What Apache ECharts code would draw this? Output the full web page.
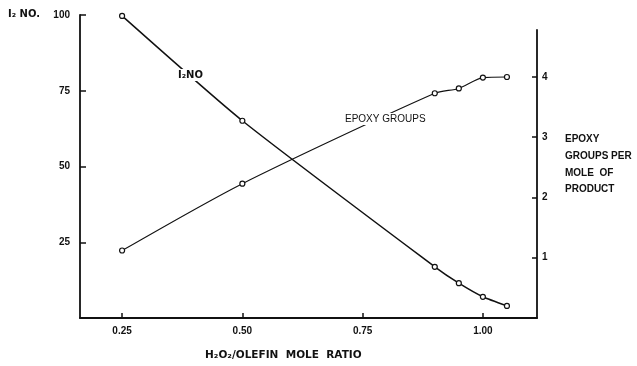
<!DOCTYPE html>
<html><head><meta charset="utf-8">
<script src="https://cdn.jsdelivr.net/npm/echarts@6/dist/echarts.min.js"></script>
<style>html,body{margin:0;padding:0;background:#fff}#c{width:637px;height:366px}</style>
</head><body><div id="c"></div>
<script>
const ratios = [0.25, 0.50, 0.90, 0.95, 1.00, 1.05];
const iodineNo = [99.7, 65.1, 16.9, 11.5, 7.0, 4.0];
const epoxyGroups = [1.12, 2.23, 3.73, 3.81, 3.99, 4.0];
const xTicks = [0.25, 0.50, 0.75, 1.00];
const leftTicks = [25, 50, 75, 100];
const rightTicks = [1, 2, 3, 4];

const FONT = '"Liberation Sans", "DejaVu Sans", sans-serif';
const DV = '"DejaVu Sans", sans-serif';
const chart = echarts.init(document.getElementById('c'), null, {renderer: 'canvas'});
const grid = {left: 80, right: 100, top: 15, bottom: 48};
const xBase = {type: 'value', min: 0.1625, max: 1.1125};

chart.setOption({
  animation: false,
  backgroundColor: '#fff',
  grid: [grid, {left: 80, right: 100, top: 30, bottom: 48}],
  xAxis: [
    Object.assign({}, xBase, {
      gridIndex: 0,
      axisLine: {lineStyle: {color: '#111', width: 1.8}},
      axisTick: {inside: true, length: 5, customValues: xTicks, lineStyle: {color: '#111', width: 1.5}},
      axisLabel: {customValues: xTicks, formatter: v => v.toFixed(2), color: '#111', fontFamily: FONT, fontWeight: 'bold', fontSize: 10, margin: 8},
      splitLine: {show: false}
    }),
    Object.assign({}, xBase, {gridIndex: 1, show: false, splitLine: {show: false}})
  ],
  yAxis: [
    {type: 'value', gridIndex: 0, min: 0, max: 100, interval: 25, position: 'left',
     axisLine: {show: true, lineStyle: {color: '#111', width: 1.8}},
     axisTick: {show: true, inside: true, length: 6, lineStyle: {color: '#111', width: 1.5}},
     axisLabel: {showMinLabel: false, color: '#111', fontFamily: FONT, fontWeight: 'bold', fontSize: 10, margin: 10,
       formatter: v => leftTicks.includes(v) ? String(v) : ''},
     splitLine: {show: false}},
    {type: 'value', gridIndex: 1, min: 0, max: 4.78, interval: 1, position: 'right',
     axisLine: {show: true, lineStyle: {color: '#111', width: 1.8}},
     axisTick: {show: true, inside: true, length: 5, lineStyle: {color: '#111', width: 1.5}},
     axisLabel: {showMinLabel: false, showMaxLabel: false, color: '#111', fontFamily: FONT, fontWeight: 'bold', fontSize: 10, margin: 5,
       formatter: v => rightTicks.includes(v) ? String(v) : ''},
     splitLine: {show: false}}
  ],
  series: [
    {name: 'I2 NO', type: 'line', xAxisIndex: 0, yAxisIndex: 0, smooth: 0.2,
     data: ratios.map((x, i) => [x, iodineNo[i]]),
     symbol: 'circle', symbolSize: 5, showAllSymbol: true,
     lineStyle: {color: '#111', width: 1.5},
     itemStyle: {color: '#fff', borderColor: '#111', borderWidth: 1.2}},
    {name: 'Epoxy groups', type: 'line', xAxisIndex: 1, yAxisIndex: 1, smooth: 0.25,
     data: ratios.map((x, i) => [x, epoxyGroups[i]]),
     symbol: 'circle', symbolSize: 5, showAllSymbol: true,
     lineStyle: {color: '#111', width: 1.1},
     itemStyle: {color: '#fff', borderColor: '#111', borderWidth: 1.2}}
  ],
  graphic: [
    {type: 'text', left: 8, top: 9, z: 100, style: {text: 'I₂ NO.', fill: '#111', font: 'bold 10px ' + DV}},
    {type: 'text', left: 177, top: 69, z: 100, style: {text: 'I₂NO', fill: '#111', font: 'bold 10px ' + DV, backgroundColor: '#fff', padding: [1, 1]}},
    {type: 'text', left: 343, top: 113, z: 100, style: {text: 'EPOXY GROUPS', fill: '#111', font: '10px ' + FONT, backgroundColor: '#fff', padding: [1, 2]}},
    {type: 'text', left: 565, top: 131, z: 100, style: {text: 'EPOXY\nGROUPS PER\nMOLE  OF\nPRODUCT', fill: '#111', font: 'bold 10px ' + FONT, lineHeight: 16.7}},
    {type: 'text', left: 205, top: 350, z: 100, style: {text: 'H₂O₂/OLEFIN  MOLE  RATIO', fill: '#111', font: 'bold 10.5px ' + DV}}
  ]
});
</script></body></html>
